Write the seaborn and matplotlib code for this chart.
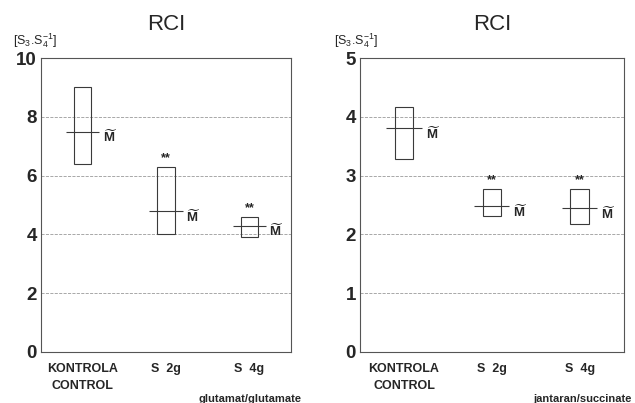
import numpy as np
import pandas as pd
import seaborn as sns
import matplotlib.pyplot as plt

groups = ['KONTROLA\nCONTROL', 'S  2g', 'S  4g']
signif = ['', '**', '**']

# glutamat / glutamate: range (min-max) and median
glu_min = [6.4, 4.0, 3.9]
glu_max = [9.0, 6.3, 4.6]
glu_med = [7.5, 4.8, 4.3]

# jantaran / succinate
suc_min = [3.28, 2.31, 2.18]
suc_max = [4.16, 2.77, 2.78]
suc_med = [3.81, 2.48, 2.45]

sns.set_style('white')
plt.rcParams['font.family'] = ['Liberation Sans', 'DejaVu Sans']
plt.rcParams['mathtext.fontset'] = 'custom'
plt.rcParams['mathtext.rm'] = 'Liberation Sans'
plt.rcParams['mathtext.bf'] = 'Liberation Sans:bold'

fig = plt.figure(figsize=(6.35, 4.03), dpi=100)
ax1 = fig.add_axes([0.0646, 0.1266, 0.3937, 0.7294])
ax2 = fig.add_axes([0.567, 0.1266, 0.415, 0.7294])


def panel(ax, lo, hi, med, ymax, ystep, note, note_x):
    df = pd.DataFrame({'group': groups, 'span': np.subtract(hi, lo)})
    sns.barplot(data=df, x='group', y='span', bottom=lo, width=0.21,
                fill=False, color='#3a3a3a', linewidth=0.8,
                errorbar=None, ax=ax)
    pos = np.arange(len(groups))
    ax.hlines(med, pos - 0.2, pos + 0.2, color='#3a3a3a', lw=0.8, zorder=3)
    for i in pos:
        ax.annotate(r'$\widetilde{\mathbf{M}}$', (i + 0.33, med[i]),
                    xytext=(0, -4), textcoords='offset points',
                    ha='center', va='center', fontsize=9.5)
        if signif[i]:
            ax.annotate(signif[i], (i, hi[i]), xytext=(0, 2),
                        textcoords='offset points', ha='center',
                        va='bottom', fontsize=9, fontweight='bold')
    ax.set_xlim(-0.5, 2.5)
    ax.set_ylim(0, ymax)
    ax.set_yticks(range(0, ymax + 1, ystep))
    ax.yaxis.grid(True, ls='--', color='#9a9a9a', lw=0.6)
    ax.set_axisbelow(True)
    ax.set_xlabel('')
    ax.set_ylabel('')
    ax.tick_params(axis='y', length=0, pad=3, labelsize=13.5)
    ax.tick_params(axis='x', direction='in', length=4, width=0.6,
                   color='#555555', pad=8, labelsize=9)
    for lab in ax.get_xticklabels():
        lab.set_fontweight('bold')
        lab.set_linespacing(1.6)
    for lab in ax.get_yticklabels():
        lab.set_fontweight('bold')
    for sp in ax.spines.values():
        sp.set_color('#555555')
        sp.set_linewidth(0.8)
    ax.set_title('RCI', fontsize=16, pad=20)
    ax.text(note_x, -0.16, note, transform=ax.transAxes, ha='center',
            va='center', fontsize=8, fontweight='bold')


panel(ax1, glu_min, glu_max, glu_med, 10, 2, 'glutamat/glutamate', 0.835)
panel(ax2, suc_min, suc_max, suc_med, 5, 1, 'jantaran/succinate', 0.845)

fig.text(0.055, 0.9, r'[S$_3$.S$_4^{-1}$]', ha='center', va='center', fontsize=9)
fig.text(0.56, 0.9, r'[S$_3$.S$_4^{-1}$]', ha='center', va='center', fontsize=9)

fig.savefig('out.png', dpi=100)
